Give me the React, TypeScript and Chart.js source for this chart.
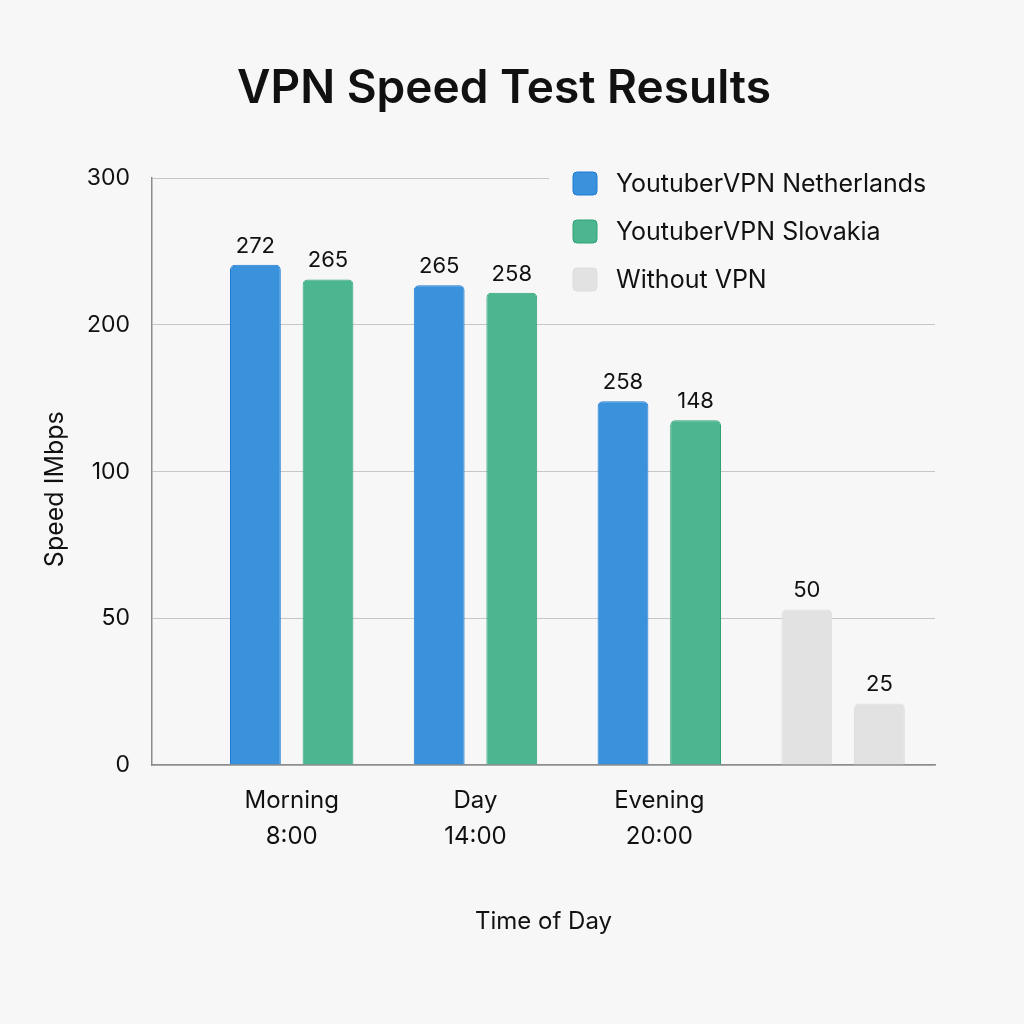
import React, { useEffect, useRef } from 'react';
import { Chart, registerables, LinearScale } from 'chart.js';

Chart.register(...registerables);

// ---- data ----
const chartTitle = 'VPN Speed Test Results';
const xTitle = 'Time of Day';
const yTitle = 'Speed IMbps';
const categories: (string | string[])[] = [['Morning', '8:00'], ['Day', '14:00'], ['Evening', '20:00'], ''];
const seriesNames = ['YoutuberVPN Netherlands', 'YoutuberVPN Slovakia', 'Without VPN'];
// bar heights as read against the (uneven) y axis
const netherlands = [241, 227, 148, null];
const slovakia = [231, 222, 135, null];
const withoutVpnFirst = [null, null, null, 53];
const withoutVpnSecond = [null, null, null, 21];
// value labels printed above the bars
const netherlandsLabels = ['272', '265', '258', ''];
const slovakiaLabels = ['265', '258', '148', ''];
const withoutVpnFirstLabels = ['', '', '', '50'];
const withoutVpnSecondLabels = ['', '', '', '25'];
const yTicks = [0, 50, 100, 200, 300];

// ---- styles ----
const BG = '#f7f7f7';
const FONT = 'Inter, "Noto Sans", "DejaVu Sans", sans-serif';
const BLUE = '#3a92dc';
const BLUE_BORDER = '#1f7ad4';
const GREEN = '#4bb68f';
const GREEN_BORDER = '#2ea374';
const GRAY = '#e2e2e2';
const GRAY_BORDER = '#dedede';
const GRID = '#c6c6c6';
const AXIS = '#8c8c8c';

class PiecewiseScale extends LinearScale {
  static id = 'piecewise';
  static defaults = LinearScale.defaults;
  buildTicks() {
    return yTicks.map((v) => ({ value: v }));
  }
  getPixelForValue(value: any) {
    if (value === null || value === undefined || isNaN(value)) return NaN;
    const n = yTicks.length - 1;
    let pos = 0;
    if (value >= yTicks[n]) {
      pos = n + (value - yTicks[n]) / (yTicks[n] - yTicks[n - 1]);
    } else if (value <= yTicks[0]) {
      pos = (value - yTicks[0]) / (yTicks[1] - yTicks[0]);
    } else {
      for (let i = 0; i < n; i++) {
        if (value <= yTicks[i + 1]) {
          pos = i + (value - yTicks[i]) / (yTicks[i + 1] - yTicks[i]);
          break;
        }
      }
    }
    return (this as any).getPixelForDecimal(pos / n);
  }
  getValueForPixel(pixel: number) {
    const n = yTicks.length - 1;
    const pos = (this as any).getDecimalForPixel(pixel) * n;
    const i = Math.min(Math.max(Math.floor(pos), 0), n - 1);
    return yTicks[i] + (pos - i) * (yTicks[i + 1] - yTicks[i]);
  }
}
Chart.register(PiecewiseScale as any);

const valueLabels = [netherlandsLabels, slovakiaLabels, withoutVpnFirstLabels, withoutVpnSecondLabels];

const barLabelPlugin = {
  id: 'barLabels',
  afterDatasetsDraw(chart: any) {
    const ctx = chart.ctx;
    ctx.save();
    ctx.font = `400 22px ${FONT}`;
    ctx.fillStyle = '#111111';
    ctx.textAlign = 'center';
    ctx.textBaseline = 'alphabetic';
    chart.data.datasets.forEach((ds: any, d: number) => {
      const meta = chart.getDatasetMeta(d);
      meta.data.forEach((el: any, i: number) => {
        const v = ds.data[i];
        const text = valueLabels[d][i];
        if (v === null || v === undefined || !text) return;
        ctx.fillText(text, el.x, el.y - 12);
      });
    });
    ctx.restore();
  },
};

const legendPlugin = {
  id: 'insideLegend',
  afterDraw(chart: any) {
    const ctx = chart.ctx;
    ctx.save();
    ctx.fillStyle = BG;
    ctx.fillRect(549, 160, 392, 140);
    const items = chart.data.datasets.slice(0, 3);
    items.forEach((ds: any, i: number) => {
      const cy = 183.5 + i * 48;
      const x = 573;
      ctx.beginPath();
      (ctx as any).roundRect(x, cy - 11.5, 24, 23, 4);
      ctx.fillStyle = ds.backgroundColor;
      ctx.fill();
      ctx.lineWidth = 1;
      ctx.strokeStyle = ds.borderColor;
      ctx.stroke();
      ctx.fillStyle = '#111111';
      ctx.font = `400 25px ${FONT}`;
      ctx.textAlign = 'left';
      ctx.textBaseline = 'alphabetic';
      ctx.fillText(ds.label, 616, cy + 8.5);
    });
    ctx.restore();
  },
};

export default function App() {
  const ref = useRef<HTMLCanvasElement>(null);
  useEffect(() => {
    document.body.style.margin = '0';
    const barCommon = { borderWidth: 1, borderRadius: 5, borderSkipped: 'bottom' as const };
    const chart = new Chart(ref.current as HTMLCanvasElement, {
      type: 'bar',
      data: {
        labels: categories.map((_, i) => i),
        datasets: [
          { label: seriesNames[0], data: netherlands, backgroundColor: BLUE, borderColor: BLUE_BORDER, ...barCommon },
          { label: seriesNames[1], data: slovakia, backgroundColor: GREEN, borderColor: GREEN_BORDER, ...barCommon },
          { label: seriesNames[2], data: withoutVpnFirst, backgroundColor: GRAY, borderColor: GRAY_BORDER, ...barCommon },
          { label: seriesNames[2], data: withoutVpnSecond, backgroundColor: GRAY, borderColor: GRAY_BORDER, ...barCommon },
        ] as any,
      },
      options: {
        animation: false,
        responsive: true,
        maintainAspectRatio: false,
        devicePixelRatio: 1,
        layout: { padding: { left: 0, right: 16, top: 0, bottom: 0 } },
        datasets: { bar: { skipNull: true, categoryPercentage: 0.79, barPercentage: 0.7 } as any },
        plugins: {
          legend: { display: false },
          tooltip: { enabled: false },
          title: {
            display: true,
            text: chartTitle,
            color: '#111111',
            font: { family: FONT, size: 46, weight: '600' as any },
            padding: { top: 62, bottom: 61 },
          },
        },
        scales: {
          x: {
            type: 'linear',
            offset: false,
            min: -0.76,
            max: 3.5,
            afterBuildTicks: (scale: any) => {
              scale.ticks = categories.map((_, i) => ({ value: i }));
            },
            afterFit: (scale: any) => {
              scale.height = 259;
            },
            grid: { display: false, drawTicks: false, offset: false },
            border: { display: true, color: AXIS, width: 1.5 },
            ticks: {
              autoSkip: false,
              maxRotation: 0,
              padding: 18,
              color: '#111111',
              font: { family: FONT, size: 24, lineHeight: 1.5 },
              callback: (v: any) => categories[v as number] ?? '',
            },
            title: {
              display: true,
              text: xTitle,
              color: '#111111',
              font: { family: FONT, size: 24 },
              padding: { top: 0, bottom: 88 },
            },
          } as any,
          y: {
            type: 'piecewise' as any,
            min: 0,
            max: 300,
            position: 'left',
            afterFit: (scale: any) => {
              scale.width = 152;
            },
            grid: { display: true, color: GRID, lineWidth: 1, drawTicks: false },
            border: { display: true, color: AXIS, width: 1.5 },
            ticks: {
              padding: 22,
              color: '#111111',
              font: { family: FONT, size: 23 },
              callback: (v: any) => String(v),
            },
            title: {
              display: true,
              text: yTitle + '     ',
              color: '#111111',
              font: { family: FONT, size: 25 },
              padding: { top: 40, bottom: 0 },
            },
          } as any,
          yRight: {
            type: 'linear',
            position: 'right',
            display: true,
            afterFit: (scale: any) => {
              scale.width = 73;
            },
            grid: { display: false, drawTicks: false },
            border: { display: false },
            ticks: { display: false },
          },
        },
      },
      plugins: [barLabelPlugin, legendPlugin],
    });
    return () => chart.destroy();
  }, []);
  return (
    <div style={{ position: 'absolute', left: 0, top: 0, width: 1024, height: 1024, background: BG }}>
      <canvas ref={ref} />
    </div>
  );
}
